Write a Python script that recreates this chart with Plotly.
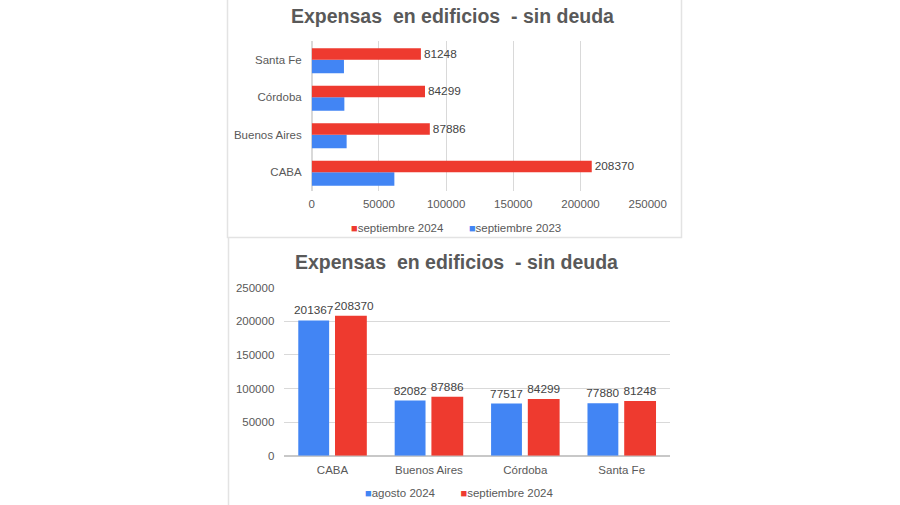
import plotly.graph_objects as go

# ---- data ----
provincias_top = ["CABA", "Buenos Aires", "Córdoba", "Santa Fe"]
sep_2024_top = [208370, 87886, 84299, 81248]
sep_2023_top = [61500, 26000, 24300, 24000]

provincias_bot = ["CABA", "Buenos Aires", "Córdoba", "Santa Fe"]
ago_2024 = [201367, 82082, 77517, 77880]
sep_2024 = [208370, 87886, 84299, 81248]

x_ticks_top = [0, 50000, 100000, 150000, 200000, 250000]
y_ticks_bot = [0, 50000, 100000, 150000, 200000, 250000]

series_top = ["septiembre 2024", "septiembre 2023"]
series_bot = ["agosto 2024", "septiembre 2024"]

title_text = "Expensas  en edificios  - sin deuda"

BLUE = "#4285f4"
RED = "#ee3a2f"
TXT = "#595959"
GRID = "#d9d9d9"
FONT = "Liberation Sans, Arial, sans-serif"

W, H = 900, 505
def px(x):
    return x / W
def py(y):
    return 1 - y / H

fig = go.Figure()

lblfont = dict(size=11.8, color="#444444", family=FONT)

# top chart (horizontal)
fig.add_trace(go.Bar(
    y=provincias_top, x=sep_2023_top, orientation="h", name=series_top[1],
    marker=dict(color=BLUE, line=dict(width=0)), width=0.36, offset=-0.36,
    xaxis="x", yaxis="y",
))
fig.add_trace(go.Bar(
    y=provincias_top, x=sep_2024_top, orientation="h", name=series_top[0],
    marker=dict(color=RED, line=dict(width=0)), width=0.31, offset=0.0,
    text=[str(v) for v in sep_2024_top], textposition="outside", constraintext="none",
    textfont=lblfont, cliponaxis=False,
    xaxis="x", yaxis="y",
))

# bottom chart (vertical)
# labels of neighbouring bars with 6 digits are nudged apart (as in the original)
blue_lbl = [str(v) for v in ago_2024]
red_lbl = [("\u00a0\u00a0" + str(v)) if len(str(v)) > 5 else str(v) for v in sep_2024]

fig.add_trace(go.Bar(
    x=provincias_bot, y=ago_2024, name=series_bot[0],
    marker=dict(color=BLUE, line=dict(width=0)), width=0.32, offset=-0.355,
    text=blue_lbl, textposition="outside", constraintext="none",
    textfont=lblfont, cliponaxis=False,
    xaxis="x2", yaxis="y2",
))
fig.add_trace(go.Bar(
    x=provincias_bot, y=sep_2024, name=series_bot[1],
    marker=dict(color=RED, line=dict(width=0)), width=0.33, offset=0.026,
    text=red_lbl, textposition="outside", constraintext="none",
    textfont=lblfont, cliponaxis=False,
    xaxis="x2", yaxis="y2",
))

def legend_text(items):
    parts = []
    for name, col in items:
        parts.append("<span style='color:%s;font-size:11px'>■</span>%s" % (col, name))
    return "        ".join(parts)

fig.update_layout(
    width=W, height=H,
    margin=dict(l=0, r=0, t=0, b=0, autoexpand=False),
    paper_bgcolor="white", plot_bgcolor="white",
    font=dict(family=FONT, color=TXT, size=11),
    barmode="group",
    showlegend=False,
    xaxis=dict(
        domain=[px(311.7), px(647.7)], range=[0, 250000], anchor="y",
        tickvals=x_ticks_top, ticktext=[str(v) for v in x_ticks_top],
        showgrid=True, gridcolor=GRID, gridwidth=1, zeroline=True, zerolinecolor=GRID,
        showline=False, ticks="", tickfont=dict(size=11.5, color=TXT),
        ticklabelstandoff=4, fixedrange=True,
    ),
    yaxis=dict(
        domain=[py(191), py(41)], anchor="x",
        categoryorder="array", categoryarray=provincias_top,
        showgrid=False, zeroline=False, showline=False, ticks="",
        tickfont=dict(size=11.5, color=TXT), ticklabelstandoff=9,
    ),
    xaxis2=dict(
        domain=[px(284.3), px(669.9)], anchor="y2",
        categoryorder="array", categoryarray=provincias_bot,
        showgrid=False, zeroline=False, showline=False, ticks="",
        tickfont=dict(size=11.5, color=TXT), ticklabelstandoff=6,
    ),
    yaxis2=dict(
        domain=[py(455.7), py(287.7)], anchor="x2", range=[0, 250000],
        tickvals=y_ticks_bot, ticktext=[str(v) for v in y_ticks_bot],
        showgrid=True, gridcolor=GRID, gridwidth=1, zeroline=True, zerolinecolor="#c8c8c8",
        showline=False, ticks="", tickfont=dict(size=11.5, color=TXT),
        ticklabelstandoff=9,
    ),
    annotations=[
        dict(text="<b>" + title_text + "</b>", x=px(453), y=py(15.5), xref="paper", yref="paper",
             showarrow=False, xanchor="center", yanchor="middle",
             font=dict(size=19.5, color=TXT, family=FONT)),
        dict(text="<b>" + title_text + "</b>", x=px(456.5), y=py(262), xref="paper", yref="paper",
             showarrow=False, xanchor="center", yanchor="middle",
             font=dict(size=19.5, color=TXT, family=FONT)),
        dict(text=legend_text([(series_top[0], RED), (series_top[1], BLUE)]),
             x=px(456), y=py(228), xref="paper", yref="paper",
             showarrow=False, xanchor="center", yanchor="middle",
             font=dict(size=11.5, color=TXT, family=FONT)),
        dict(text=legend_text([(series_bot[0], BLUE), (series_bot[1], RED)]),
             x=px(459), y=py(493), xref="paper", yref="paper",
             showarrow=False, xanchor="center", yanchor="middle",
             font=dict(size=11.5, color=TXT, family=FONT)),
    ],
    shapes=[
        dict(type="rect", xref="paper", yref="paper", x0=px(227.5), x1=px(681.5), y0=py(237.5), y1=py(-2),
             line=dict(color="#e3e3e3", width=1.5), fillcolor="rgba(0,0,0,0)"),
        dict(type="line", xref="paper", yref="paper", x0=px(228.5), x1=px(228.5), y0=py(238), y1=py(506),
             line=dict(color="#e3e3e3", width=1.5)),
    ],
)

fig.write_html(
    "out.html",
    config={"displayModeBar": False, "staticPlot": True},
    post_script="document.body.style.margin='0';document.body.style.overflow='hidden';",
)
